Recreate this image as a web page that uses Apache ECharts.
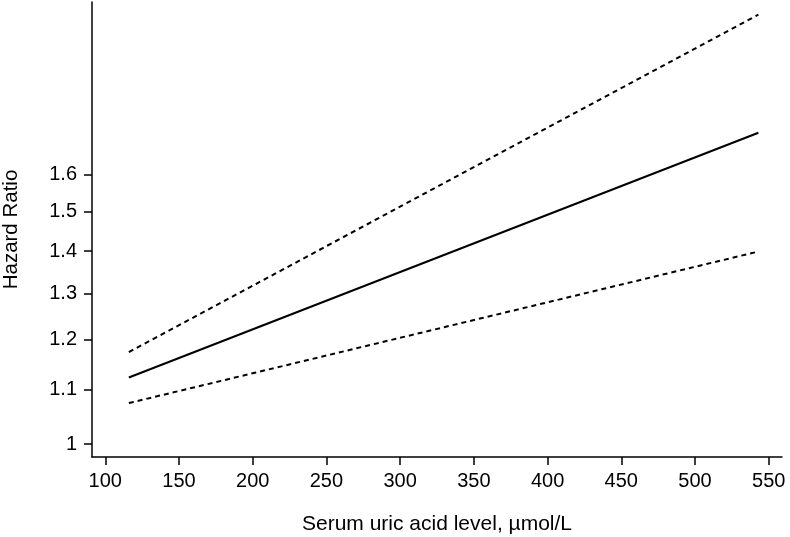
<!DOCTYPE html>
<html>
<head>
<meta charset="utf-8">
<script src="https://cdn.jsdelivr.net/npm/echarts@6/dist/echarts.min.js"></script>
<style>
  html, body { margin: 0; padding: 0; background: #fff; }
  #chart { width: 790px; height: 537px; }
</style>
</head>
<body>
<div id="chart"></div>
<script>
// 读取自图：血尿酸水平 与 风险比（对数轴）
var uricAcid = [116, 543]
var hazardRatio = [1.123, 1.721]
var upperCI = [1.174, 2.115]
var lowerCI = [1.074, 1.399]

var xTicks = [100, 150, 200, 250, 300, 350, 400, 450, 500, 550]
var yTicks = [1, 1.1, 1.2, 1.3, 1.4, 1.5, 1.6]

function pairs (xs, ys) {
  return xs.map(function (x, i) { return [x, ys[i]] })
}

var font = 'Arial, "Liberation Sans", sans-serif'
var chart = echarts.init(document.getElementById('chart'))

chart.setOption({
  animation: false,
  grid: { left: 92, right: 8, top: 2, bottom: 80, outerBoundsMode: 'none', containLabel: false },
  xAxis: {
    type: 'value',
    min: 91,
    max: 559,
    name: 'Serum uric acid level, \u00b5mol/L',
    nameLocation: 'middle',
    nameGap: 57,
    nameTextStyle: { color: '#000', fontSize: 21, fontFamily: font },
    axisLine: { show: true, lineStyle: { color: '#000', width: 1.5 } },
    axisTick: { show: true, length: 8, customValues: xTicks, lineStyle: { color: '#000', width: 1.5 } },
    axisLabel: { customValues: xTicks, margin: 14, color: '#000', fontSize: 20, fontFamily: font },
    splitLine: { show: false }
  },
  yAxis: {
    type: 'log',
    logBase: 10,
    min: 0.9776,
    max: 2.162,
    name: 'Hazard Ratio',
    nameLocation: 'middle',
    nameGap: 70,
    nameTextStyle: { color: '#000', fontSize: 20.5, fontFamily: font },
    axisLine: { show: true, lineStyle: { color: '#000', width: 1.5 } },
    axisTick: { show: true, length: 8, customValues: yTicks, lineStyle: { color: '#000', width: 1.5 } },
    axisLabel: {
      customValues: yTicks,
      margin: 15,
      color: '#000',
      fontSize: 20,
      fontFamily: font,
      formatter: function (v) { return String(Math.round(v * 10) / 10) }
    },
    splitLine: { show: false }
  },
  series: [
    {
      name: 'upper',
      type: 'line',
      data: pairs(uricAcid, upperCI),
      symbol: 'none',
      lineStyle: { color: '#000', width: 2, type: [5, 4] }
    },
    {
      name: 'HR',
      type: 'line',
      data: pairs(uricAcid, hazardRatio),
      symbol: 'none',
      lineStyle: { color: '#000', width: 2 }
    },
    {
      name: 'lower',
      type: 'line',
      data: pairs(uricAcid, lowerCI),
      symbol: 'none',
      lineStyle: { color: '#000', width: 2, type: [5, 4] }
    }
  ]
})
</script>
</body>
</html>
